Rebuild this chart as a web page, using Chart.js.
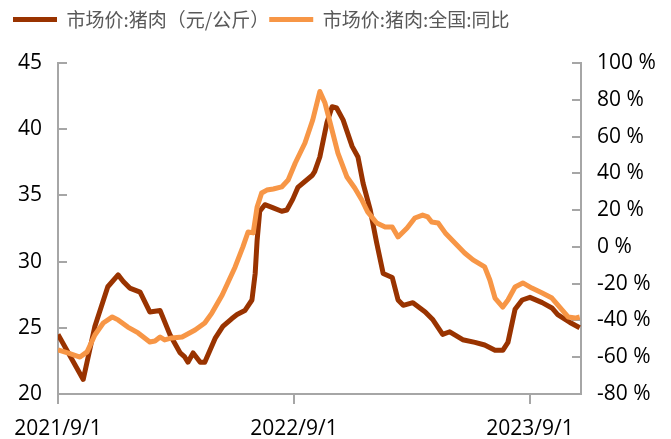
<!DOCTYPE html>
<html>
<head>
<meta charset="utf-8">
<script src="https://cdn.jsdelivr.net/npm/chart.js@4.4.1/dist/chart.umd.min.js"></script>
<style>
  body { margin: 0; background: #fff; }
  #wrap { width: 671px; height: 439px; }
</style>
</head>
<body>
<div id="wrap"><canvas id="chart" width="671" height="439"></canvas></div>
<script>
// x = dias desde 2021/9/1
const xTickDays = [0, 365, 730];
const xTickLabels = ['2021/9/1', '2022/9/1', '2023/9/1'];

// 市场价:猪肉（元/公斤）
const priceDays = [0, 39, 57, 77, 93, 101, 111, 127, 142, 158, 173, 189, 196, 201, 209, 220, 227, 243, 255, 269, 277, 289, 300, 305, 308, 312, 320, 331, 346, 354, 363, 371, 393, 397, 405, 416, 424, 431, 441, 455, 464, 472, 483, 493, 503, 517, 526, 534, 549, 568, 580, 595, 606, 626, 645, 660, 676, 688, 696, 707, 718, 730, 749, 764, 773, 792, 807];
const priceValues = [24.5, 21.1, 25.1, 28.1, 29.0, 28.5, 28.0, 27.7, 26.2, 26.3, 24.5, 23.1, 22.8, 22.4, 23.1, 22.4, 22.4, 24.2, 25.1, 25.7, 26.0, 26.3, 27.1, 29.1, 31.6, 33.8, 34.3, 34.1, 33.8, 33.9, 34.7, 35.6, 36.5, 36.8, 37.9, 40.5, 41.7, 41.6, 40.7, 38.7, 37.9, 35.9, 33.9, 31.4, 29.1, 28.8, 27.1, 26.7, 26.9, 26.2, 25.6, 24.5, 24.7, 24.1, 23.9, 23.7, 23.3, 23.3, 23.9, 26.4, 27.1, 27.3, 26.9, 26.5, 26.0, 25.4, 25.0];

// 市场价:猪肉:全国:同比 (%)
const yoyDays = [0, 15, 34, 45, 57, 70, 84, 93, 108, 124, 142, 150, 158, 165, 176, 192, 212, 227, 238, 254, 274, 286, 294, 302, 308, 315, 323, 333, 346, 356, 367, 382, 394, 405, 413, 421, 433, 447, 459, 470, 479, 493, 506, 517, 526, 540, 552, 564, 572, 578, 588, 599, 614, 629, 642, 660, 668, 676, 688, 696, 707, 719, 733, 749, 764, 776, 789, 800, 807];
const yoyValues = [-56, -57.7, -59.9, -57.1, -47.9, -41.4, -38.1, -39.7, -43.6, -46.8, -51.7, -51.2, -49, -50.6, -49.5, -49, -45.2, -41.4, -36, -26.2, -10.9, 0, 8.1, 7.6, 21.7, 29.3, 30.9, 31.5, 32.6, 36.4, 45.6, 56.5, 69, 84.5, 78.2, 67.4, 51, 38, 32, 25.5, 19, 13, 10.8, 10.8, 5.4, 10.3, 15.7, 17.3, 16.3, 13.5, 13, 7.6, 2.1, -3.3, -7.1, -10.9, -18, -27.8, -32.7, -28.9, -21.8, -19.6, -22.4, -25.1, -27.8, -32.7, -38.1, -38.7, -38.1];

const corPreco = '#993300';
const corYoy = '#F79646';
const corEixo = '#A6A6A6';
const fonteTick = { family: '"Open Sans", "Liberation Sans", sans-serif', size: 21 };

const toPoints = (xs, ys) => xs.map((x, i) => ({ x: x, y: ys[i] }));

// altura fixa da legenda (topo da área do gráfico em y=63)
const legendaAltura = {
    id: 'legendaAltura',
    beforeInit(chart) {
        const fitOriginal = chart.legend.fit;
        chart.legend.fit = function () {
            fitOriginal.bind(chart.legend)();
            this.height = 53;
        };
    }
};

const axisBase = {
    grid: { drawOnChartArea: false, color: corEixo, lineWidth: 2 },
    border: { display: true, color: corEixo, width: 2 },
    ticks: { color: '#000', font: fonteTick }
};

new Chart(document.getElementById('chart'), {
    type: 'line',
    data: {
        datasets: [
            { label: '市场价:猪肉（元/公斤）', data: toPoints(priceDays, priceValues), yAxisID: 'y', borderColor: corPreco, backgroundColor: corPreco, borderWidth: 5, order: 1 },
            { label: '市场价:猪肉:全国:同比', data: toPoints(yoyDays, yoyValues), yAxisID: 'y2', borderColor: corYoy, backgroundColor: corYoy, borderWidth: 5, order: 0 }
        ]
    },
    options: {
        responsive: false,
        animation: false,
        devicePixelRatio: 1,
        layout: { padding: { left: 13, top: 10, right: 0, bottom: 0 } },
        elements: { point: { radius: 0 }, line: { tension: 0, borderJoinStyle: 'round' } },
        plugins: {
            tooltip: { enabled: false },
            legend: {
                position: 'top',
                align: 'start',
                labels: {
                    boxWidth: 44,
                    boxHeight: 5,
                    padding: 0,
                    color: '#595959',
                    font: { family: '"Noto Sans CJK SC", sans-serif', size: 19 },
                    sort: (a, b) => a.datasetIndex - b.datasetIndex,
                    generateLabels: (chart) => Chart.defaults.plugins.legend.labels.generateLabels(chart).map((item) => ({ ...item, lineWidth: 0 }))
                }
            }
        },
        scales: {
            x: {
                ...axisBase,
                type: 'linear',
                min: 0,
                max: 809,
                grid: { ...axisBase.grid, tickLength: 10 },
                ticks: {
                    ...axisBase.ticks,
                    padding: 12,
                    maxRotation: 0,
                    callback: (value) => xTickLabels[xTickDays.indexOf(value)] ?? ''
                },
                afterBuildTicks: (scale) => { scale.ticks = xTickDays.map((v) => ({ value: v })); },
                afterFit: (scale) => { scale.height = 45; }
            },
            y: {
                ...axisBase,
                position: 'left',
                min: 20,
                max: 45,
                grid: { ...axisBase.grid, tickLength: -9 },
                ticks: { ...axisBase.ticks, stepSize: 5, padding: 25 },
                afterFit: (scale) => { scale.width = 45; }
            },
            y2: {
                ...axisBase,
                position: 'right',
                min: -80,
                max: 100,
                grid: { ...axisBase.grid, tickLength: -9 },
                ticks: { ...axisBase.ticks, stepSize: 20, padding: 25, callback: (v) => v + ' %' },
                afterFit: (scale) => { scale.width = 90; }
            }
        }
    },
    plugins: [legendaAltura]
});
</script>
</body>
</html>
